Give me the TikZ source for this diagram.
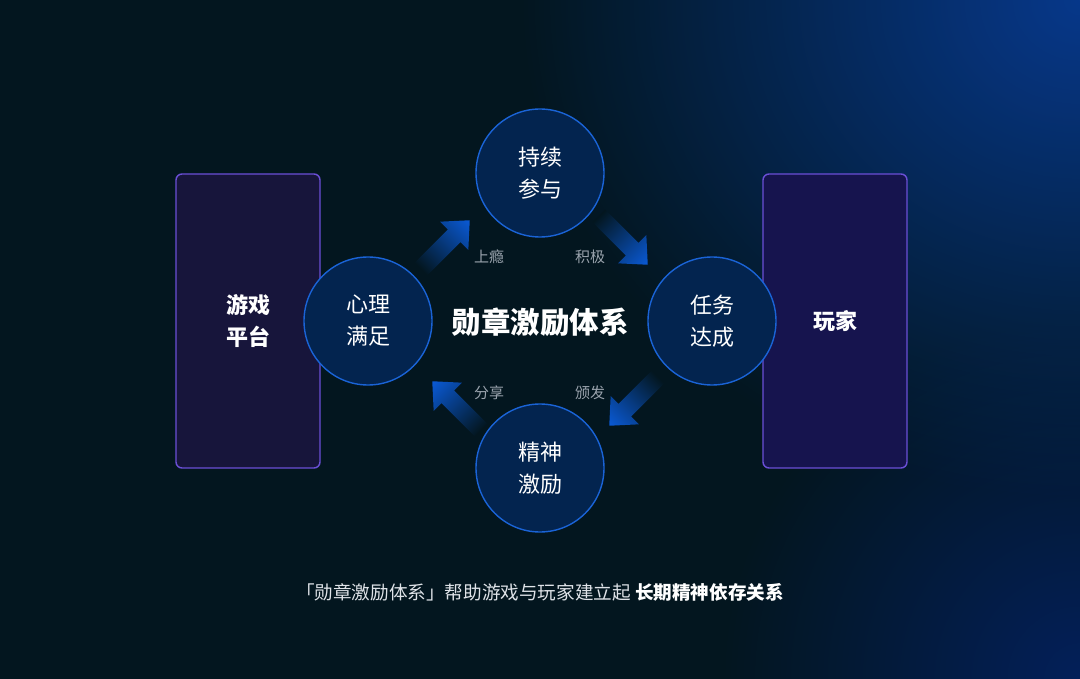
\documentclass[tikz,border=0pt]{standalone}
\usepackage{fontspec}
\usetikzlibrary{fadings}
\newfontfamily\cjk{Noto Sans CJK SC}
\definecolor{bg}{HTML}{03161F}
\definecolor{glow}{HTML}{07388A}
\definecolor{glowb}{HTML}{03205A}
\definecolor{boxfill}{HTML}{17153B}
\definecolor{boxfillb}{HTML}{16144E}
\definecolor{boxline}{HTML}{6A4FD6}
\definecolor{circfill}{HTML}{03244F}
\definecolor{circline}{HTML}{1A63D6}
\definecolor{arrowblue}{HTML}{0A5AD6}
\definecolor{lbl}{HTML}{9AA3AD}
\definecolor{foot}{HTML}{DFE3E8}
\tikzfading[name=glowfade, inner color=transparent!0, outer color=transparent!100]
\tikzset{
  panel/.style={draw=boxline, line width=1.4pt, rounded corners=6pt, minimum width=144pt, minimum height=294pt, inner sep=0pt, text=white, align=center, font=\cjk\bfseries\fontsize{22}{32}\selectfont},
  circ/.style={circle, draw=circline, fill=circfill, line width=1.4pt, minimum size=128pt, inner sep=0pt, text=white, align=center, font=\cjk\fontsize{22}{32}\selectfont},
  lab/.style={text=lbl, font=\cjk\fontsize{15}{15}\selectfont, inner sep=0pt},
  blockarrow/.style={left color=bg, middle color=arrowblue!55!bg, right color=arrowblue}
}
\newcommand{\blockarr}[2]{%
  \begin{scope}[transform canvas={shift={(#1)}, rotate=#2}]
    \shade[blockarrow] (-34,-9) -- (13,-9) -- (13,-20) -- (35,0) -- (13,20) -- (13,9) -- (-34,9) -- cycle;
  \end{scope}}
\begin{document}
\begin{tikzpicture}[x=1pt,y=-1pt]
\useasboundingbox (0,0) rectangle (1080,679);
\fill[bg] (0,0) rectangle (1080,679);
\begin{scope}
  \clip (0,0) rectangle (1080,679);
  \fill[glowb, path fading=glowfade] (1080,679) circle (360);
  \fill[glow, path fading=glowfade] (1080,0) ellipse (560 and 500);
\end{scope}

% panels
\node[panel, fill=boxfill] (platform) at (248,321) {游戏\\平台};
\node[panel, fill=boxfillb] (player) at (835,321) {玩家};

% circles
\node[circ] (top) at (540,173) {持续\\参与};
\node[circ] (left) at (368,321) {心理\\满足};
\node[circ] (right) at (712,321) {任务\\达成};
\node[circ] (bottom) at (540,468) {精神\\激励};

% center title
\node[text=white, font=\cjk\bfseries\fontsize{29.5}{30}\selectfont, inner sep=0pt] (title) at (540,322) {勋章激励体系};

% arrows
\coordinate (a1) at (445,245);
\coordinate (a2) at (623,240);
\coordinate (a3) at (634,401);
\coordinate (a4) at (457,406);
\blockarr{a1}{45}
\blockarr{a2}{-45}
\blockarr{a3}{-135}
\blockarr{a4}{135}

% labels
\node[lab] (l1) at (489,257) {上瘾};
\node[lab] (l2) at (590,257) {积极};
\node[lab] (l3) at (489,393) {分享};
\node[lab] (l4) at (590,393) {颁发};

% footer
\node[text=foot, font=\cjk\fontsize{18.6}{19}\selectfont, inner sep=0pt] (footer) at (540,592) {「勋章激励体系」帮助游戏与玩家建立起 {\color{white}\bfseries 长期精神依存关系}};
\end{tikzpicture}
\end{document}
